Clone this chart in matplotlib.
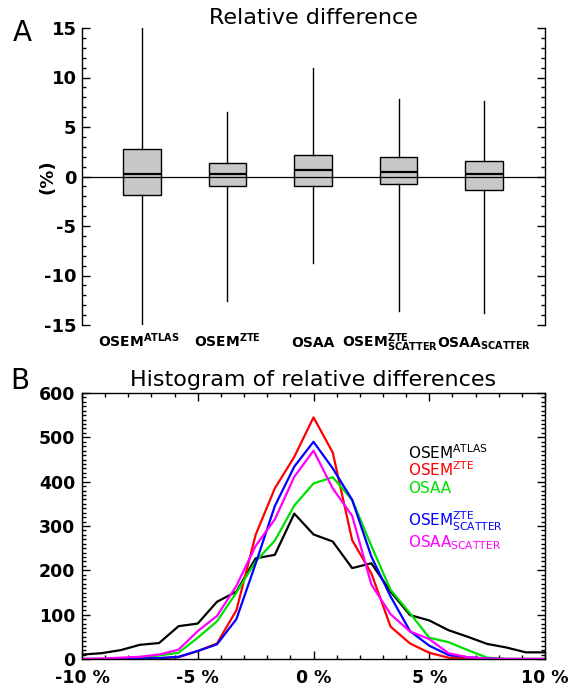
import matplotlib
matplotlib.use('Agg')
import matplotlib.pyplot as plt
import matplotlib.transforms as mtransforms
from matplotlib.ticker import MultipleLocator

plt.rcParams['font.family'] = ['DejaVu Sans']
plt.rcParams['mathtext.fontset'] = 'custom'
plt.rcParams['mathtext.rm'] = 'DejaVu Sans'
plt.rcParams['mathtext.bf'] = 'DejaVu Sans:bold'
plt.rcParams['mathtext.it'] = 'DejaVu Sans:italic'
plt.rcParams['axes.unicode_minus'] = False

# ---------------- Panel A data (box plot of relative difference, %) ----------------
methods = ['OSEM$^{\\mathbf{ATLAS}}$', 'OSEM$^{\\mathbf{ZTE}}$', 'OSAA',
           'OSEM$^{\\mathbf{ZTE}}_{\\mathbf{SCATTER}}$', 'OSAA$_{\\mathbf{SCATTER}}$']
whisker_low = [-15.0, -12.6, -8.7, -13.6, -13.8]
q1 = [-1.9, -1.0, -1.0, -0.8, -1.4]
median = [0.3, 0.25, 0.7, 0.45, 0.25]
q3 = [2.75, 1.4, 2.2, 2.0, 1.6]
whisker_high = [15.0, 6.5, 11.0, 7.8, 7.6]

# ---------------- Panel B data (histograms) ----------------
rel_diff = [-10.0, -9.17, -8.33, -7.5, -6.67, -5.83, -5.0, -4.17, -3.33, -2.5, -1.67, -0.83,
            0.0, 0.83, 1.67, 2.5, 3.33, 4.17, 5.0, 5.83, 6.67, 7.5, 8.33, 9.17, 10.0]
osem_atlas = [10, 13, 20, 32, 36, 74, 80, 129, 152, 227, 235, 328, 281, 265, 205, 216,
              152, 99, 87, 65, 50, 34, 26, 15, 15]
osem_zte = [0, 0, 1, 1, 2, 4, 18, 35, 110, 280, 385, 456, 545, 466, 268, 193,
            73, 35, 14, 3, 1, 0, 0, 0, 0]
osaa = [0, 0, 1, 2, 8, 14, 48, 85, 150, 220, 267, 346, 396, 410, 359, 255,
        156, 103, 48, 38, 20, 3, 0, 0, 0]
osem_zte_scatter = [0, 0, 0, 1, 2, 5, 18, 33, 90, 215, 345, 434, 490, 430, 359, 231,
                    141, 63, 30, 9, 4, 1, 0, 0, 0]
osaa_scatter = [0, 1, 3, 5, 10, 21, 63, 97, 165, 255, 315, 411, 470, 385, 323, 168,
                101, 62, 45, 13, 4, 1, 0, 0, 0]

series = [
    ('OSEM$^{\\mathrm{ATLAS}}$', osem_atlas, '#000000'),
    ('OSEM$^{\\mathrm{ZTE}}$', osem_zte, '#ff0000'),
    ('OSAA', osaa, '#00e000'),
    ('OSEM$^{\\mathrm{ZTE}}_{\\mathrm{SCATTER}}$', osem_zte_scatter, '#0000ff'),
    ('OSAA$_{\\mathrm{SCATTER}}$', osaa_scatter, '#ff00ff'),
]
legend_y = [452, 413, 374, 298, 251]

W, H = 568, 692
fig = plt.figure(figsize=(W / 100, H / 100), dpi=100)

# ---------------- Panel A ----------------
ax1 = fig.add_axes([82 / W, 1 - 325 / H, 463 / W, 297 / H])
positions = list(range(1, len(methods) + 1))
stats = []
for i in range(len(methods)):
    stats.append(dict(med=median[i], q1=q1[i], q3=q3[i],
                      whislo=whisker_low[i], whishi=whisker_high[i], fliers=[]))
ax1.bxp(stats, positions=positions, widths=0.44, patch_artist=True, showfliers=False,
        showcaps=False,
        boxprops=dict(facecolor='#c8c8c8', edgecolor='black', linewidth=1.0),
        medianprops=dict(color='black', linewidth=1.6),
        whiskerprops=dict(color='black', linewidth=1.0))
ax1.axhline(0, color='black', linewidth=0.9, zorder=5)
ax1.set_xlim(0.3, 5.71)
ax1.set_ylim(-15, 15)
for s in ['top', 'bottom']:
    ax1.spines[s].set_visible(False)
for s in ['left', 'right']:
    ax1.spines[s].set_linewidth(1.0)
ax1.yaxis.set_major_locator(MultipleLocator(5))
ax1.yaxis.set_minor_locator(MultipleLocator(1))
ax1.tick_params(axis='y', which='both', direction='in', left=True, right=True,
                labelright=False, width=1.0)
ax1.tick_params(axis='y', which='major', length=6, labelsize=13, pad=4)
ax1.tick_params(axis='y', which='minor', length=3)
for lab in ax1.get_yticklabels():
    lab.set_fontweight('bold')
ax1.set_xticks(positions)
ax1.set_xticklabels(methods, fontweight='bold', fontsize=10)
ax1.tick_params(axis='x', length=0, pad=16)
label_shift = [-3, 0, 0, -9, 0]
for lab, dx in zip(ax1.get_xticklabels(), label_shift):
    lab.set_va('baseline')
    lab.set_transform(lab.get_transform() +
                      mtransforms.ScaledTranslation(dx / 100, 0, fig.dpi_scale_trans))
ax1.set_title('Relative difference', fontsize=16, pad=1)
fig.text(48 / W, 1 - 177 / H, '(%)', rotation=90, ha='center', va='center',
         fontsize=13, fontweight='bold')
fig.text(22 / W, 1 - 33 / H, 'A', ha='center', va='center', fontsize=20)

# ---------------- Panel B ----------------
ax2 = fig.add_axes([82 / W, 1 - 659 / H, 463 / W, 266 / H])
for name, vals, col in series:
    ax2.plot(rel_diff, vals, color=col, linewidth=1.6)
ax2.set_xlim(-10, 10)
ax2.set_ylim(0, 600)
for s in ax2.spines.values():
    s.set_linewidth(1.0)
ax2.set_xticks([-10, -5, 0, 5, 10])
ax2.set_xticklabels(['-10 %', '-5 %', '0 %', '5 %', '10 %'])
ax2.xaxis.set_minor_locator(MultipleLocator(1))
ax2.yaxis.set_major_locator(MultipleLocator(100))
ax2.yaxis.set_minor_locator(MultipleLocator(10))
ax2.tick_params(which='both', direction='in', top=True, right=True, width=1.0)
ax2.tick_params(which='major', length=6, labelsize=12.5, pad=5)
ax2.tick_params(axis='x', which='major', pad=7)
ax2.tick_params(which='minor', length=3)
for lab in ax2.get_xticklabels() + ax2.get_yticklabels():
    lab.set_fontweight('bold')
ax2.set_title('Histogram of relative differences', fontsize=16, pad=5)
for (name, vals, col), ly in zip(series, legend_y):
    ax2.text(4.08, ly, name, color=col, fontsize=11, va='baseline', ha='left')
fig.text(20 / W, 1 - 381 / H, 'B', ha='center', va='center', fontsize=20)

fig.savefig('out.png', dpi=100)
